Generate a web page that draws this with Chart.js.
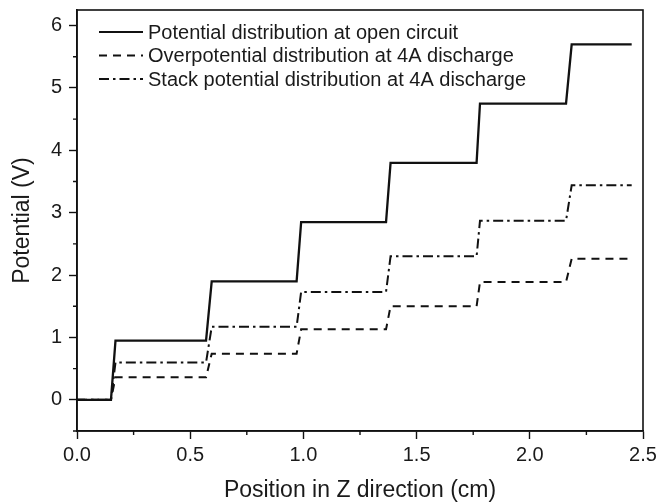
<!DOCTYPE html>
<html>
<head>
<meta charset="utf-8">
<script src="https://cdn.jsdelivr.net/npm/chart.js@4"></script>
<style>
  html, body { margin: 0; padding: 0; background: #fff; }
  #wrap { width: 666px; height: 504px; }
</style>
</head>
<body>
<div id="wrap"><canvas id="stepChart" width="666" height="504"></canvas></div>
<script>
// step positions along z (cm): where each riser starts and where it ends
const riseStart = [0.15, 0.57, 0.97, 1.365, 1.765, 2.16];
const riseEnd = [0.17, 0.595, 0.99, 1.385, 1.78, 2.185];
const xLast = 2.45;

// plateau levels (V), first value is the level before the first riser
const openCircuit = [0, 0.95, 1.90, 2.85, 3.80, 4.75, 5.70];
const overpotential = [0, 0.36, 0.74, 1.13, 1.50, 1.89, 2.26];
const stackPotential = [0, 0.60, 1.17, 1.73, 2.30, 2.87, 3.44];

const seriesNames = [
  "Potential distribution at open circuit",
  "Overpotential distribution at 4A discharge",
  "Stack potential distribution at 4A discharge"
];
const dashes = [[], [8, 6], [10, 4, 2.5, 4]];

const xTickLabels = ["0.0", "0.5", "1.0", "1.5", "2.0", "2.5"];
const yTickLabels = ["0", "1", "2", "3", "4", "5", "6"];

const textColor = "#1a1a1a";
const fontFamily = "'Liberation Sans', Arial, sans-serif";

const buildSteps = (levels) => {
  const pts = [{ x: 0, y: levels[0] }];
  riseStart.forEach((xs, i) => {
    pts.push({ x: xs, y: levels[i] });
    pts.push({ x: riseEnd[i], y: levels[i + 1] });
  });
  pts.push({ x: xLast, y: levels[levels.length - 1] });
  return pts;
};

const allLevels = [openCircuit, overpotential, stackPotential];

const isMajor = (v, step) => Math.abs(v / step - Math.round(v / step)) < 1e-6;

// frame around the plot, minor ticks and the inner legend
const framePlugin = {
  id: "frame",
  afterDraw(chart) {
    const { ctx, chartArea } = chart;
    const xs = chart.scales.x;
    const ys = chart.scales.y;
    ctx.save();
    ctx.strokeStyle = "#111";
    ctx.lineWidth = 1.6;
    ctx.strokeRect(chartArea.left, chartArea.top, chartArea.right - chartArea.left, chartArea.bottom - chartArea.top);

    // minor ticks
    ctx.lineWidth = 1.4;
    ctx.beginPath();
    xs.ticks.forEach(t => {
      if (!isMajor(t.value, 0.5)) {
        const px = xs.getPixelForValue(t.value);
        ctx.moveTo(px, chartArea.bottom);
        ctx.lineTo(px, chartArea.bottom + 4);
      }
    });
    ys.ticks.forEach(t => {
      if (!isMajor(t.value, 1)) {
        const py = ys.getPixelForValue(t.value);
        ctx.moveTo(chartArea.left, py);
        ctx.lineTo(chartArea.left - 4, py);
      }
    });
    ctx.stroke();

    // legend
    ctx.font = "20px " + fontFamily;
    ctx.textBaseline = "middle";
    ctx.fillStyle = textColor;
    chart.data.datasets.forEach((ds, i) => {
      const y = chartArea.top + 22 + i * 23.5;
      const x0 = chartArea.left + 22;
      ctx.beginPath();
      ctx.setLineDash(ds.borderDash || []);
      ctx.lineWidth = 2;
      ctx.strokeStyle = ds.borderColor;
      ctx.moveTo(x0, y);
      ctx.lineTo(x0 + 44, y);
      ctx.stroke();
      ctx.setLineDash([]);
      ctx.fillText(ds.label, x0 + 49, y + 1);
    });
    ctx.restore();
  }
};

const ctx = document.getElementById("stepChart");
const myChart = new Chart(ctx, {
  type: "line",
  data: {
    datasets: seriesNames.map((name, i) => ({
      label: name,
      data: buildSteps(allLevels[i]),
      borderColor: "#111",
      borderWidth: i === 0 ? 2.3 : 2,
      borderDash: dashes[i],
      pointRadius: 0,
      tension: 0,
      fill: false
    }))
  },
  options: {
    responsive: false,
    animation: false,
    devicePixelRatio: 1,
    layout: { padding: { top: 10, right: 23, left: 0, bottom: 0 } },
    plugins: {
      legend: { display: false },
      tooltip: { enabled: false }
    },
    scales: {
      x: {
        type: "linear",
        min: 0,
        max: 2.5,
        afterFit: (s) => { s.height = 73; s.paddingLeft = 0; s.paddingRight = 0; },
        border: { display: true, color: "#111", width: 1.6 },
        grid: {
          drawOnChartArea: false,
          tickLength: 8,
          tickWidth: 1.4,
          tickColor: (c) => (c.tick && isMajor(c.tick.value, 0.5) ? "#111" : "rgba(0,0,0,0)")
        },
        ticks: {
          stepSize: 0.25,
          maxRotation: 0,
          autoSkip: false,
          padding: 4,
          color: textColor,
          font: { family: fontFamily, size: 20 },
          callback: (v) => (isMajor(v, 0.5) ? xTickLabels[Math.round(v / 0.5)] : "")
        },
        title: {
          display: true,
          text: "Position in Z direction (cm)",
          color: textColor,
          font: { family: fontFamily, size: 23 },
          padding: { top: 0, bottom: 0 }
        }
      },
      y: {
        type: "linear",
        min: -0.5,
        max: 6.25,
        afterFit: (s) => { s.width = 77; s.paddingTop = 0; s.paddingBottom = 0; },
        border: { display: true, color: "#111", width: 1.6 },
        grid: {
          drawOnChartArea: false,
          tickLength: 8,
          tickWidth: 1.4,
          tickColor: (c) => (c.tick && isMajor(c.tick.value, 1) ? "#111" : "rgba(0,0,0,0)")
        },
        ticks: {
          stepSize: 0.5,
          includeBounds: false,
          autoSkip: false,
          padding: 7,
          color: textColor,
          font: { family: fontFamily, size: 20 },
          callback: (v) => (isMajor(v, 1) && v >= 0 ? yTickLabels[Math.round(v)] : "")
        },
        title: {
          display: true,
          text: "Potential (V)",
          color: textColor,
          font: { family: fontFamily, size: 23 },
          padding: { top: 9, bottom: 0 }
        }
      }
    }
  },
  plugins: [framePlugin]
});
</script>
</body>
</html>
